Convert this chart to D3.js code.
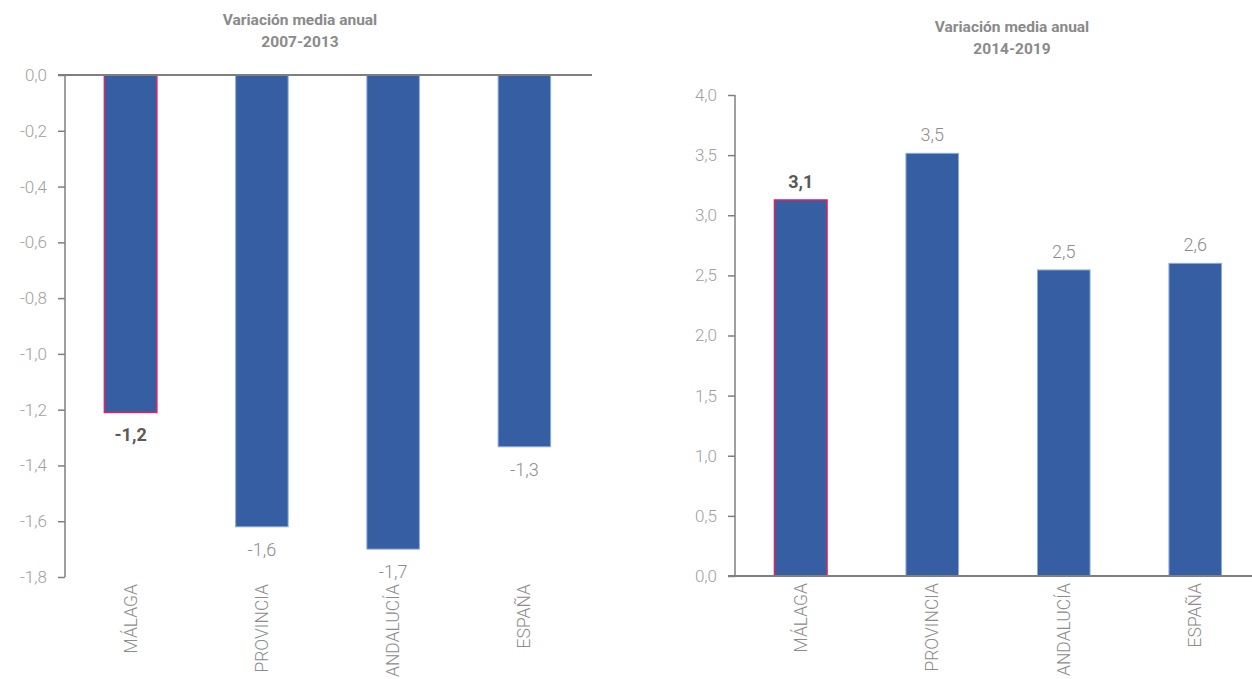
<!DOCTYPE html>
<html><head><meta charset="utf-8">
<script src="https://cdn.jsdelivr.net/npm/d3@7"></script>
<style>
html,body{margin:0;padding:0;background:#fff;}
svg{display:block;font-family:Roboto,"Open Sans",sans-serif;}
</style></head>
<body>
<svg id="c" width="1252" height="679"></svg>
<script>
const categories = ["MÁLAGA","PROVINCIA","ANDALUCÍA","ESPAÑA"];
const values2007 = [-1.21, -1.62, -1.70, -1.333];
const labels2007 = ["-1,2","-1,6","-1,7","-1,3"];
const ticks2007 = [0,-0.2,-0.4,-0.6,-0.8,-1.0,-1.2,-1.4,-1.6,-1.8];
const values2014 = [3.127, 3.515, 2.545, 2.60];
const labels2014 = ["3,1","3,5","2,5","2,6"];
const ticks2014 = [0,0.5,1.0,1.5,2.0,2.5,3.0,3.5,4.0];
const titles = [["Variación media anual","2007-2013"],["Variación media anual","2014-2019"]];

const svg = d3.select("#c");
const fmt = d => d3.format(".1f")(d).replace(".", ",").replace("−","-");
const AXIS = "#7f7f7f", TICKTXT = "#a0a0a0", BAR = "#365EA2";

function panel(cfg){
  const g = svg.append("g");
  const x = d3.scaleBand().domain(categories).range([cfg.x0, cfg.x1]).paddingInner(0.6).paddingOuter(0.3);
  const y = d3.scaleLinear().domain(cfg.domain).range([cfg.yTop, cfg.yBot]);
  // title
  const t = g.append("text").attr("x", cfg.tx).attr("text-anchor","middle")
    .attr("font-size",15.5).attr("font-weight",700).attr("fill","#8a8a8a");
  t.append("tspan").attr("x",cfg.tx).attr("y",cfg.ty).text(cfg.title[0]);
  t.append("tspan").attr("x",cfg.tx).attr("y",cfg.ty+22).text(cfg.title[1]);
  // bars
  cfg.values.forEach((v,i)=>{
    const c = categories[i];
    const yy = Math.min(y(0), y(v)), h = Math.abs(y(v)-y(0));
    g.append("rect").attr("x", x(c)).attr("y", yy).attr("width", x.bandwidth()).attr("height", h)
      .attr("fill", BAR).attr("stroke", i===0 ? "#e0245e" : "#8eaadb").attr("stroke-width", i===0?1.5:1);
    const ly = v < 0 ? y(v) + 29 : y(v) - 12;
    g.append("text").attr("x", x(c)+x.bandwidth()/2).attr("y", ly).attr("text-anchor","middle")
      .attr("font-size",18).attr("font-weight", i===0?700:300).attr("fill", i===0?"#595959":"#8c8c8c")
      .text(cfg.labels[i]);
  });
  // y axis
  const ya = d3.axisLeft(y).tickValues(cfg.ticks).tickSize(7).tickPadding(11).tickFormat(fmt);
  const ag = g.append("g").attr("transform",`translate(${cfg.x0},0)`).call(ya);
  ag.select(".domain").attr("stroke",AXIS).attr("stroke-width",1.5).attr("d",`M0,${cfg.yTop}V${cfg.yBot}`);
  ag.selectAll(".tick line").attr("stroke",AXIS).attr("stroke-width",1.5);
  ag.selectAll(".tick text").attr("fill",TICKTXT).attr("font-size",17).attr("font-weight",300)
    .attr("font-family","Roboto,sans-serif");
  // baseline
  g.append("line").attr("x1", cfg.x0-7).attr("x2", cfg.lineEnd).attr("y1", y(0)).attr("y2", y(0))
    .attr("stroke", AXIS).attr("stroke-width", 2);
  // category labels
  categories.forEach(c=>{
    const cx = x(c)+x.bandwidth()/2;
    g.append("text").attr("transform",`translate(${cx+6},${cfg.catY}) rotate(-90)`)
      .attr("text-anchor","end").attr("font-size",17.5).attr("font-weight",300).attr("fill","#8c8c8c")
      .text(c);
  });
}

panel({x0:65, x1:590, yTop:75, yBot:577, domain:[0,-1.8], values:values2007, labels:labels2007,
  ticks:ticks2007, title:titles[0], tx:300, ty:25, lineEnd:592, catY:584});
panel({x0:735, x1:1261, yTop:95, yBot:576, domain:[4,0], values:values2014, labels:labels2014,
  ticks:ticks2014, title:titles[1], tx:1012, ty:32, lineEnd:1252, catY:583});
</script>
</body></html>
